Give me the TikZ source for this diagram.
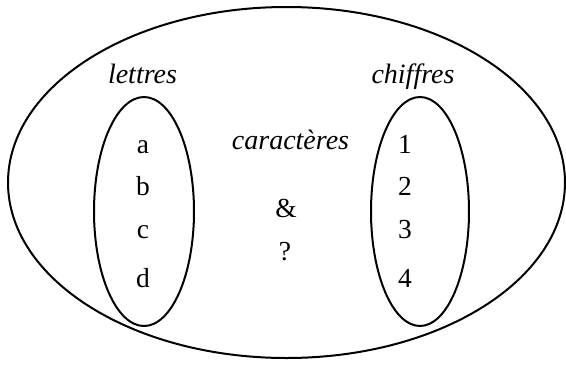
\documentclass[tikz,border=0pt]{standalone}
\usepackage{fontspec}
\setmainfont{Liberation Serif}
\usetikzlibrary{shapes.geometric}
\begin{document}
\begin{tikzpicture}[x=1pt,y=-1pt,
  setline/.style={draw=black, line width=2pt, ellipse, inner sep=0pt, outer sep=0pt},
  lbl/.style={font=\fontsize{27.5}{32}\selectfont, inner sep=0pt, anchor=base},
  title/.style={lbl, font=\fontsize{28}{32}\selectfont\itshape}]
\useasboundingbox (0,0) rectangle (566,365);
% outer set and the two subsets
\node[setline, minimum width=557pt, minimum height=351pt] (outer) at (286.5,182.5) {};
\node[setline, minimum width=100pt, minimum height=229pt] (letters) at (144,211.5) {};
\node[setline, minimum width=98pt, minimum height=229pt] (digits) at (420,211.5) {};
% set names
\node[title] (tl) at (142.5,83) {lettres};
\node[title] (td) at (413,83) {chiffres};
\node[title] (tc) at (290.5,149) {caractères};
% elements
\node[lbl] (a) at (143,153) {a};
\node[lbl] (b) at (143,195) {b};
\node[lbl] (c) at (143,238) {c};
\node[lbl] (d) at (143,287) {d};
\node[lbl] (n1) at (405,153) {1};
\node[lbl] (n2) at (405,195) {2};
\node[lbl] (n3) at (405,238) {3};
\node[lbl] (n4) at (405,287) {4};
\node[lbl] (amp) at (286,217) {\&};
\node[lbl] (q) at (285,260) {?};
\end{tikzpicture}
\end{document}
